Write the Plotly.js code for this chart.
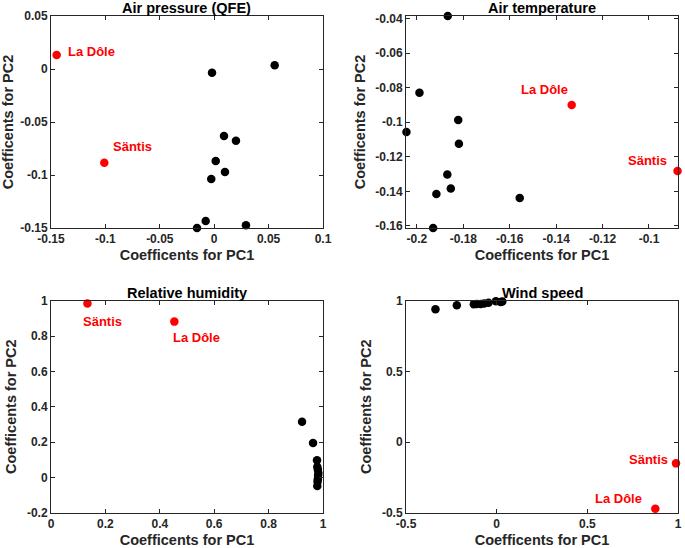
<!DOCTYPE html>
<html>
<head>
<meta charset="utf-8">
<script src="https://cdn.plot.ly/plotly-3.0.1.min.js"></script>
<style>html,body{margin:0;padding:0;background:#fff;}#chart{width:685px;height:548px;}</style>
</head>
<body>
<div id="chart"></div>
<script>
// ---- data ----
const stations = ["La Dôle", "Säntis"];
const panelTitles = ["Air pressure (QFE)", "Air temperature", "Relative humidity", "Wind speed"];

const pressurePC1 = [-0.002, 0.0556, 0.009, 0.020, 0.0014, 0.0099, -0.0027, -0.0078, -0.0158, 0.0292];
const pressurePC2 = [-0.0035, 0.0035, -0.0632, -0.0676, -0.0868, -0.0972, -0.1038, -0.1434, -0.150, -0.1475];
const pressureStationPC1 = [-0.1448, -0.101];
const pressureStationPC2 = [0.0132, -0.0884];

const tempPC1 = [-0.1867, -0.1989, -0.1822, -0.2045, -0.1819, -0.1869, -0.1854, -0.1916, -0.1557, -0.193];
const tempPC2 = [-0.0385, -0.0829, -0.0987, -0.1056, -0.1124, -0.1303, -0.1384, -0.1415, -0.1438, -0.1612];
const tempStationPC1 = [-0.1333, -0.0877];
const tempStationPC2 = [-0.090, -0.1282];

const humidPC1 = [0.923, 0.9634, 0.978, 0.979, 0.981, 0.983, 0.982, 0.981, 0.980, 0.979];
const humidPC2 = [0.3146, 0.195, 0.097, 0.060, 0.045, 0.025, 0.010, -0.010, -0.025, -0.049];
const humidStationPC1 = [0.4535, 0.134];
const humidStationPC2 = [0.8816, 0.984];

const windPC1 = [-0.3375, -0.2197, -0.126, -0.110, -0.088, -0.069, -0.045, -0.004, 0.022, 0.031];
const windPC2 = [0.939, 0.967, 0.975, 0.977, 0.976, 0.981, 0.986, 0.996, 0.990, 0.994];
const windStationPC1 = [0.875, 0.989];
const windStationPC2 = [-0.472, -0.151];

// tick labels
const p_xt = [-0.15, -0.1, -0.05, 0, 0.05, 0.1];
const p_xl = ["-0.15", "-0.1", "-0.05", "0", "0.05", "0.1"];
const p_yt = [-0.15, -0.1, -0.05, 0, 0.05];
const p_yl = ["-0.15", "-0.1", "-0.05", "0", "0.05"];
const t_xt = [-0.2, -0.18, -0.16, -0.14, -0.12, -0.1];
const t_xl = ["-0.2", "-0.18", "-0.16", "-0.14", "-0.12", "-0.1"];
const t_yt = [-0.16, -0.14, -0.12, -0.1, -0.08, -0.06, -0.04];
const t_yl = ["-0.16", "-0.14", "-0.12", "-0.1", "-0.08", "-0.06", "-0.04"];
const h_xt = [0, 0.2, 0.4, 0.6, 0.8, 1];
const h_xl = ["0", "0.2", "0.4", "0.6", "0.8", "1"];
const h_yt = [-0.2, 0, 0.2, 0.4, 0.6, 0.8, 1];
const h_yl = ["-0.2", "0", "0.2", "0.4", "0.6", "0.8", "1"];
const w_xt = [-0.5, 0, 0.5, 1];
const w_xl = ["-0.5", "0", "0.5", "1"];
const w_yt = [-0.5, 0, 0.5, 1];
const w_yl = ["-0.5", "0", "0.5", "1"];

// ---- styling ----
const FONT = "Liberation Sans, Arial, Helvetica, sans-serif";
const AX = "#262626";
const RED = "#ff0000";

function blackTrace(x, y, ax) {
  return {x: x, y: y, xaxis: "x" + ax, yaxis: "y" + ax, type: "scatter", mode: "markers",
    marker: {color: "#000", size: 8.5}, cliponaxis: false, showlegend: false, hoverinfo: "skip"};
}
function redTrace(x, y, ax) {
  return {x: x, y: y, xaxis: "x" + ax, yaxis: "y" + ax, type: "scatter", mode: "markers",
    marker: {color: RED, size: 8.5}, cliponaxis: false, showlegend: false, hoverinfo: "skip"};
}

const traces = [
  blackTrace(pressurePC1, pressurePC2, ""), redTrace(pressureStationPC1, pressureStationPC2, ""),
  blackTrace(tempPC1, tempPC2, "2"), redTrace(tempStationPC1, tempStationPC2, "2"),
  blackTrace(humidPC1, humidPC2, "3"), redTrace(humidStationPC1, humidStationPC2, "3"),
  blackTrace(windPC1, windPC2, "4"), redTrace(windStationPC1, windStationPC2, "4")
];

function xax(domain, range, tv, tt, anchor) {
  return {domain: domain, range: range, tickvals: tv, ticktext: tt, anchor: anchor,
    showgrid: false, zeroline: false, showline: true, linecolor: AX, linewidth: 1, mirror: "ticks",
    ticks: "inside", ticklen: 4, tickcolor: AX, tickwidth: 1,
    tickfont: {family: FONT, size: 12, color: AX, weight: "bold"},
    title: {text: "Coefficents for PC1", font: {family: FONT, size: 14.5, color: AX, weight: "bold"}, standoff: 4}};
}
function yax(domain, range, tv, tt, anchor) {
  return {domain: domain, range: range, tickvals: tv, ticktext: tt, anchor: anchor,
    showgrid: false, zeroline: false, showline: true, linecolor: AX, linewidth: 1, mirror: "ticks",
    ticks: "inside", ticklen: 4, tickcolor: AX, tickwidth: 1,
    tickfont: {family: FONT, size: 12, color: AX, weight: "bold"},
    title: {text: "Coefficents for PC2", font: {family: FONT, size: 14.5, color: AX, weight: "bold"}, standoff: 6}};
}

const xL = [51/685, 323/685], xR = [406/685, 678/685];
const yT = [(548-228)/548, (548-16)/548], yB = [(548-512.7)/548, (548-300.7)/548];

const annotations = [];
// subplot titles
[[xL, yT], [xR, yT], [xL, yB], [xR, yB]].forEach((d, i) => {
  annotations.push({xref: "paper", yref: "paper", x: (d[0][0] + d[0][1]) / 2, y: d[1][1],
    xanchor: "center", yanchor: "bottom", yshift: -2, showarrow: false, text: panelTitles[i],
    font: {family: FONT, size: 14.5, color: "#000", weight: "bold"}});
});
// station labels, anchored at each station point
function lab(ax, xs, ys, i, xanchor, xshift, yshift) {
  annotations.push({xref: "x" + ax, yref: "y" + ax, x: xs[i], y: ys[i], text: stations[i],
    xanchor: xanchor, yanchor: "middle", xshift: xshift, yshift: yshift, showarrow: false,
    font: {family: FONT, size: 13, color: RED, weight: "bold"}});
}
lab("", pressureStationPC1, pressureStationPC2, 0, "left", 9, 4);
lab("", pressureStationPC1, pressureStationPC2, 1, "left", 7, 16);
lab("2", tempStationPC1, tempStationPC2, 0, "right", -2, 15);
lab("2", tempStationPC1, tempStationPC2, 1, "right", -9, 10);
lab("3", humidStationPC1, humidStationPC2, 0, "center", 22, -15.5);
lab("3", humidStationPC1, humidStationPC2, 1, "center", 15, -18);
lab("4", windStationPC1, windStationPC2, 0, "right", -11, 10);
lab("4", windStationPC1, windStationPC2, 1, "right", -6, 4);

const layout = {
  width: 685, height: 548, margin: {l: 0, r: 0, t: 0, b: 0},
  paper_bgcolor: "#fff", plot_bgcolor: "#fff",
  font: {family: FONT, color: AX, weight: "bold"},
  showlegend: false,
  xaxis: xax(xL, [-0.15, 0.1], p_xt, p_xl, "y"),
  yaxis: yax(yT, [-0.15, 0.05], p_yt, p_yl, "x"),
  xaxis2: xax(xR, [-0.2047, -0.0875], t_xt, t_xl, "y2"),
  yaxis2: yax(yT, [-0.1612, -0.0385], t_yt, t_yl, "x2"),
  xaxis3: xax(xL, [0, 1], h_xt, h_xl, "y3"),
  yaxis3: yax(yB, [-0.2, 1], h_yt, h_yl, "x3"),
  xaxis4: xax(xR, [-0.5, 1], w_xt, w_xl, "y4"),
  yaxis4: yax(yB, [-0.5, 1], w_yt, w_yl, "x4"),
  annotations: annotations
};

Plotly.newPlot("chart", traces, layout, {displayModeBar: false, staticPlot: true});
</script>
</body>
</html>
